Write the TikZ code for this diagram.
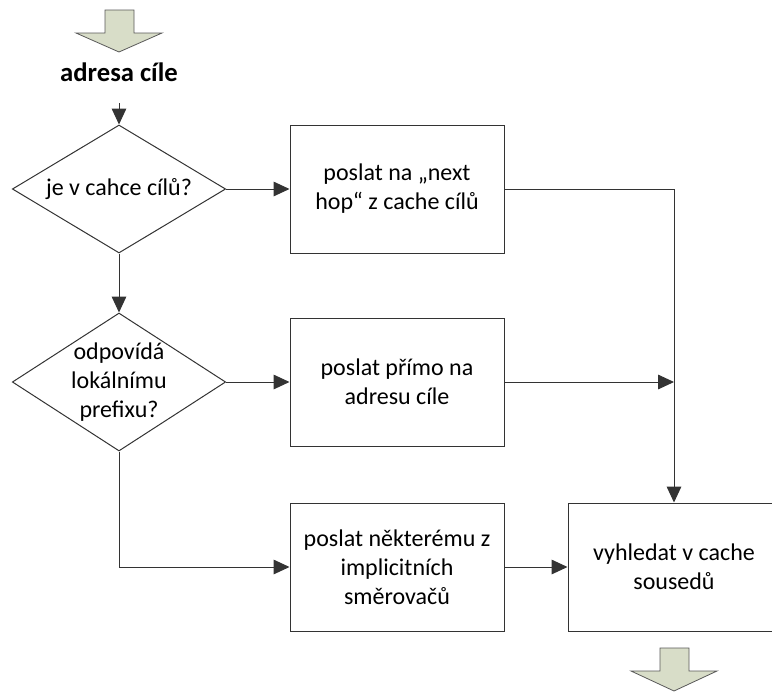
\documentclass[tikz,border=0pt]{standalone}
\usepackage{fontspec}
\setmainfont{Carlito}
\usetikzlibrary{arrows.meta, shapes.geometric, positioning}
\definecolor{blockfill}{RGB}{216,221,200}

\begin{document}
\begin{tikzpicture}[
        x = 0.75pt, y = -0.75pt,
        on grid,
        font = \fontsize{18}{21.75}\selectfont,
        line width = 0.75pt,
        >= {Triangle[length = 12pt, width = 11pt]},
        every edge/.append style = {draw = black!80},
        decision/.style = {draw = black!80, shape = diamond, inner sep = -4pt, align = center},
        action/.style = {draw = black!80, minimum width = 160.5pt, minimum height = 96pt, align = center},
        blockarrow/.style = {draw = black!65, fill = blockfill, line width = 0.6pt}
    ]

      \useasboundingbox (0,0) rectangle (772,693);

      \node[decision, shape aspect = 1.66, minimum width = 160pt, minimum height = 96pt] (cache) at (119,189) {je v cahce cílů?};
      \node[decision, shape aspect = 1.54, minimum width = 160pt, minimum height = 103.5pt] (prefix) [below = 144.75pt of cache] {odpovídá\\lokálnímu\\prefixu?};

      \node[font = \fontsize{20}{24}\selectfont\bfseries] (addr) [above = 87.75pt of cache] {adresa cíle};

      \node[action] (nexthop) [right = 208.5pt of cache] {poslat na „next\\hop“ z cache cílů};
      \node[action] (direct) [right = 208.5pt of prefix] {poslat přímo na\\adresu cíle};
      \node[action] (router) [below = 138.75pt of direct] {poslat některému z\\implicitních\\směrovačů};
      \node[action, minimum width = 159pt] (neigh) [right = 207.75pt of router] {vyhledat v cache\\sousedů};

      \coordinate (in) at (119,103);
      \coordinate (join) at (neigh.north |- direct.east);

      % block arrows in and out
      \draw[blockarrow] (105,10) -- (134,10) -- (134,33) -- (162,33) -- (119,52) -- (76,33) -- (105,33) -- cycle;
      \draw[blockarrow] (660,648) -- (689,648) -- (689,671) -- (717,671) -- (674,691) -- (631,671) -- (660,671) -- cycle;

      \path[->]
            (in) edge (cache.north)
            (cache.south) edge (prefix.north)
            (cache.east) edge (nexthop.west)
            (prefix.east) edge (direct.west)
            (direct.east) edge (join)
            (router.east) edge (neigh.west);

      \draw[->, draw = black!80] (nexthop.east) -| (neigh.north);
      \draw[->, draw = black!80] (prefix.south) |- (router.west);

\end{tikzpicture}
\end{document}
